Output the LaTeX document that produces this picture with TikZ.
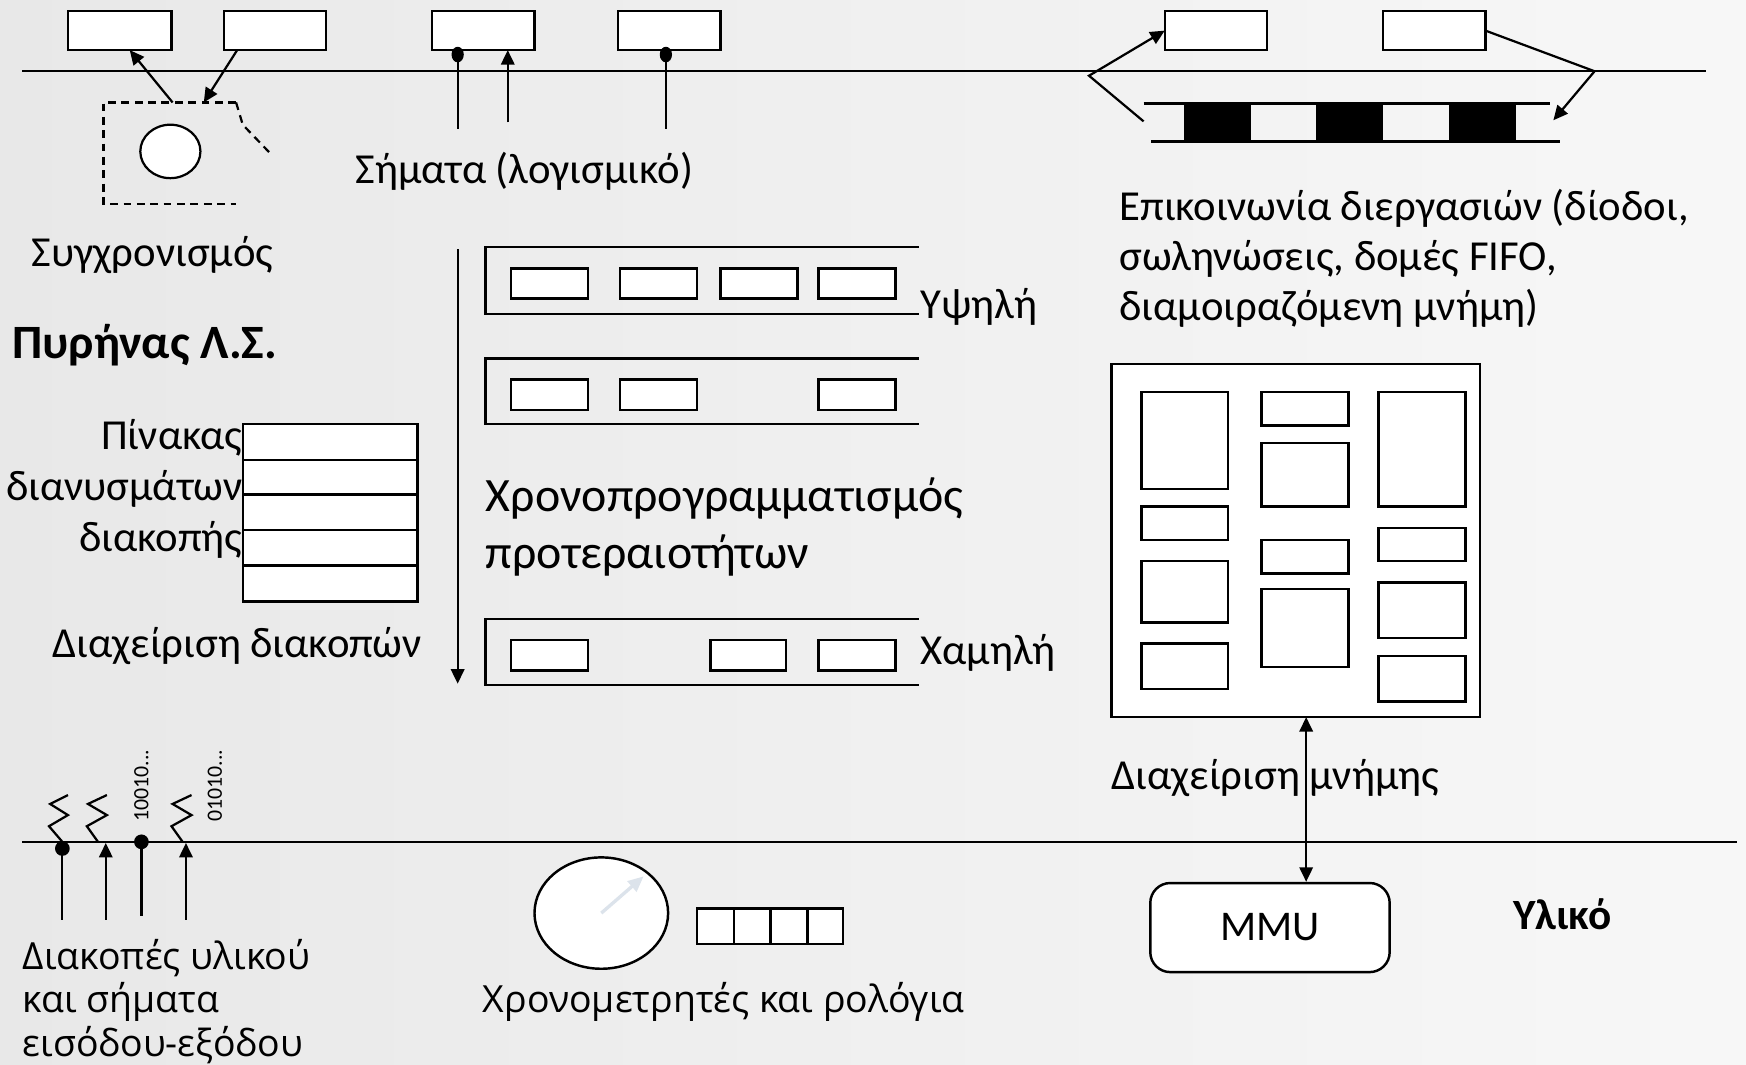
\documentclass[tikz,border=0pt]{standalone}
\usepackage{fontspec}
\setmainfont{Carlito}
\newfontfamily\gothic{Open Sans}
\usetikzlibrary{arrows.meta,fit,shapes.geometric}
\definecolor{hand}{HTML}{DCE3EB}
\begin{document}
\begin{tikzpicture}[x=0.5pt,y=-0.5pt,
  bx/.style={draw, line width=1.1pt, fill=white, inner sep=0pt, outer sep=0pt},
  ln/.style={line width=1pt},
  tip/.tip={Triangle[length=6.5pt,width=6pt]},
  arr/.style={ln, -tip},
  lbl/.style={font=\fontsize{19.2}{22.5}\selectfont, inner sep=0pt},
  big/.style={font=\fontsize{21.5}{25.5}\selectfont, inner sep=0pt},
  gth/.style={font=\gothic\fontsize{16.8}{20}\selectfont, inner sep=0pt},
  bin/.style={font=\fontsize{9.8}{10}\selectfont, inner sep=0pt, rotate=90, anchor=west},
  dot/.style={ellipse, fill, inner sep=0pt, minimum width=5.5pt, minimum height=7pt},
  ]
\useasboundingbox (0,0) rectangle (1568,956);
\shade[left color=black!9, middle color=white, right color=black!3] (0,0) rectangle (1568,956);

% ---- main separator lines
\coordinate (tl1) at (20,64); \coordinate (tl2) at (1532,64);
\coordinate (bl1) at (20,756); \coordinate (bl2) at (1560,756);
\draw[ln] (tl1) -- (tl2);
\draw[ln] (bl1) -- (bl2);

% ---- top boxes
\node[bx, fit={(61,10)(154,45)}] (b1) {};
\node[bx, fit={(201,10)(293,45)}] (b2) {};
\node[bx, fit={(388,10)(480,45)}] (b3) {};
\node[bx, fit={(555,10)(647,45)}] (b4) {};
\node[bx, fit={(1046,10)(1138,45)}] (b5) {};
\node[bx, fit={(1242,10)(1334,45)}] (b6) {};

% ---- synchronisation
\draw[ln, dash pattern=on 3.5pt off 2.5pt] (212,92) -- (93,92) -- (93,183) -- (212,183);
\draw[ln, dash pattern=on 3.5pt off 2.5pt] (212,92) -- (218,112) -- (242,137);
\node[draw, ellipse, ln, fill=white, minimum width=27pt, minimum height=24pt] (sem) at (153,136) {};
\coordinate (sa) at (155,92);
\coordinate (sb) at (183,92);
\draw[arr] (sa) -- ([xshift=4.5pt]b1.south);
\draw[arr] ([xshift=6pt]b2.south west) -- (sb);
\node[lbl] (sync) at (137,229) {Συγχρονισμός};
\node[lbl, font=\bfseries\fontsize{21.5}{25}\selectfont] (kern) at (130,310) {Πυρήνας Λ.Σ.};

% ---- software signals
\node[dot] (d1) at (411,49) {};
\node[dot] (d2) at (598,49) {};
\coordinate (s1e) at (411,116);
\coordinate (s2s) at (456,110);
\coordinate (s3e) at (598,116);
\draw[ln] (d1.center) -- (s1e);
\draw[arr] (s2s) -- (b3.south -| s2s);
\draw[ln] (d2.center) -- (s3e);
\node[lbl] (sig) at (471,154) {Σήματα (λογισμικό)};

% ---- IPC
\coordinate (p1) at (1027,109); \coordinate (p2) at (978,68);
\coordinate (p3) at (1432,64); \coordinate (p4) at (1395,108);
\draw[arr] (p1) -- (p2) -- (b5.west);
\draw[arr] (b6.east) -- (p3) -- (p4);
\draw[ln] (1027,93) -- (1392,93);
\draw[ln] (1034,127) -- (1401,127);
\fill (1063,93) rectangle (1123,127);
\fill (1182,93) rectangle (1242,127);
\fill (1301,93) rectangle (1361,127);
\node[lbl, anchor=west, align=left] (ipc) at (1005,232) {Επικοινωνία διεργασιών (δίοδοι,\\σωληνώσεις, δομές FIFO,\\διαμοιραζόμενη μνήμη)};

% ---- priority scheduling
\coordinate (pa) at (411,224); \coordinate (pb) at (411,614);
\draw[arr] (pa) -- (pb);
\draw[ln] (825,222) -- (436,222) -- (436,282) -- (825,282);
\draw[ln] (825,322) -- (436,322) -- (436,381) -- (825,381);
\draw[ln] (825,556) -- (436,556) -- (436,615) -- (825,615);
\node[bx, fit={(459,241)(528,268)}] (q11) {};
\node[bx, fit={(557,241)(626,268)}] (q12) {};
\node[bx, fit={(647,241)(716,268)}] (q13) {};
\node[bx, fit={(735,241)(804,268)}] (q14) {};
\node[bx, fit={(459,341)(528,368)}] (q21) {};
\node[bx, fit={(557,341)(626,368)}] (q22) {};
\node[bx, fit={(735,341)(804,368)}] (q23) {};
\node[bx, fit={(459,575)(528,602)}] (q31) {};
\node[bx, fit={(638,575)(706,602)}] (q32) {};
\node[bx, fit={(735,575)(804,602)}] (q33) {};
\node[lbl, anchor=west] (hi) at (826,276) {Υψηλή};
\node[lbl, anchor=west] (lo) at (826,586) {Χαμηλή};
\node[big, anchor=west, align=left] (sched) at (436,473) {Χρονοπρογραμματισμός\\προτεραιοτήτων};

% ---- interrupt vector table
\node[bx, fit={(218,381)(375,413)}] (v1) {};
\node[bx, fit={(218,413)(375,444)}] (v2) {};
\node[bx, fit={(218,444)(375,476)}] (v3) {};
\node[bx, fit={(218,476)(375,508)}] (v4) {};
\node[bx, fit={(218,508)(375,540)}] (v5) {};
\node[lbl, anchor=east] (vt1) at (218,393) {Πίνακας};
\node[lbl, anchor=east] (vt2) at (218,439) {διανυσμάτων};
\node[lbl, anchor=east] (vt3) at (218,485) {διακοπής};
\node[lbl] (intm) at (213,580) {Διαχείριση διακοπών};

% ---- memory
\node[bx, fit={(998,327)(1329,644)}] (mem) {};
\node[bx, fit={(1025,352)(1103,439)}] (m11) {};
\node[bx, fit={(1025,455)(1103,485)}] (m12) {};
\node[bx, fit={(1025,504)(1103,559)}] (m13) {};
\node[bx, fit={(1025,578)(1103,619)}] (m14) {};
\node[bx, fit={(1133,352)(1211,382)}] (m21) {};
\node[bx, fit={(1133,398)(1211,455)}] (m22) {};
\node[bx, fit={(1133,485)(1211,515)}] (m23) {};
\node[bx, fit={(1133,529)(1211,599)}] (m24) {};
\node[bx, fit={(1238,352)(1316,455)}] (m31) {};
\node[bx, fit={(1238,474)(1316,504)}] (m32) {};
\node[bx, fit={(1238,523)(1316,573)}] (m33) {};
\node[bx, fit={(1238,589)(1316,630)}] (m34) {};
\node[lbl, anchor=west] (memm) at (998,699) {Διαχείριση μνήμης};
\node[draw, line width=1.1pt, fill=white, rounded corners=9pt, minimum width=107.5pt, minimum height=40pt, inner sep=0pt, font=\fontsize{19}{22}\selectfont] (mmu) at (1140.5,833) {MMU};
\coordinate (ax) at (1173,700);
\draw[ln, tip-tip] (mem.south -| ax) -- (mmu.north -| ax);
\node[lbl, font=\bfseries\fontsize{19.4}{22}\selectfont] (hw) at (1403,821) {Υλικό};

% ---- timers
\node[draw, ellipse, line width=1.1pt, fill=white, minimum width=60pt, minimum height=50pt] (clock) at (540,820) {};
\draw[color=hand, line width=1.5pt, -{Triangle[length=7pt,width=6pt]}] (clock.center) -- (578,787);
\node[bx, fit={(626,816)(659,848)}] (c1) {};
\node[bx, fit={(659,816)(692,848)}] (c2) {};
\node[bx, fit={(692,816)(725,848)}] (c3) {};
\node[bx, fit={(725,816)(757,848)}] (c4) {};
\node[gth] (tim) at (650,900) {Χρονομετρητές και ρολόγια};

% ---- hardware interrupts
\node[dot, minimum width=6.6pt, minimum height=6.6pt] (h1) at (56,762) {};
\node[dot, minimum width=6.6pt, minimum height=6.6pt] (h3) at (127,756) {};
\coordinate (h1e) at (56,826);
\coordinate (h2s) at (95,826); \coordinate (h2t) at (95,757);
\coordinate (h3e) at (127,823);
\coordinate (h4s) at (167,826); \coordinate (h4t) at (167,757);
\draw[ln] (h1.center) -- (h1e);
\draw[arr] (h2s) -- (h2t);
\draw[ln] (h3.center) -- (h3e);
\draw[arr] (h4s) -- (h4t);
\draw[ln] (61,714) -- (45,722) -- (61,732) -- (44,742) -- (56,756);
\draw[ln] (96,714) -- (79,722) -- (96,732) -- (78,742) -- (88,756);
\draw[ln] (172,714) -- (155,722) -- (172,732) -- (154,742) -- (164,756);
\node[bin] (bin1) at (127,738) {10010...};
\node[bin] (bin2) at (193,738) {01010...};
\node[gth, anchor=north west, align=left, font=\gothic\fontsize{16.8}{19.5}\selectfont] (hwi) at (20,843) {Διακοπές υλικού\\και σήματα\\εισόδου-εξόδου};
\end{tikzpicture}
\end{document}
